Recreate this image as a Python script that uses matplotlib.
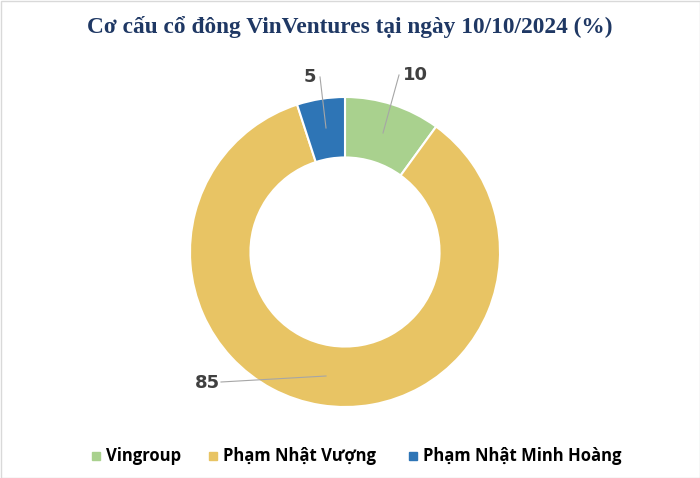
import matplotlib.pyplot as plt
from matplotlib.patches import Rectangle

# Data
labels = ['Vingroup', 'Phạm Nhật Vượng', 'Phạm Nhật Minh Hoàng']
values = [10, 85, 5]
colors = ['#A9D18E', '#E8C464', '#2E75B6']

# label positions / leader line ends (pixel coords, y from top)
label_pos = [(415, 75), (207, 383), (310, 77)]
line_from = [(399, 75), (221, 382), (320, 77)]
line_to = [(383, 133), (326, 376), (326, 128)]

W, H = 700, 478
fig = plt.figure(figsize=(7, 4.78), dpi=100)
ax = fig.add_axes([0, 0, 1, 1])

# light border around the figure
ax.add_patch(Rectangle((0.5, 0.5), W - 1, H - 1, fill=False, edgecolor='#D9D9D9', linewidth=1))

cx, cy, r = 345, H - 252, 155
ax.pie(values, colors=colors, startangle=90, counterclock=False,
       center=(cx, cy), radius=r, frame=True,
       wedgeprops=dict(width=r * 0.39, edgecolor='white', linewidth=1.5))
ax.set_xlim(0, W)
ax.set_ylim(0, H)
ax.set_aspect('equal')
ax.axis('off')

for v, (lx, ly), (fx, fy), (tx, ty) in zip(values, label_pos, line_from, line_to):
    ax.plot([fx, tx], [H - fy, H - ty], color='#A6A6A6', linewidth=0.8)
    ax.text(lx, H - ly, str(v), fontsize=13, fontweight='bold', color='#404040',
            ha='center', va='center', family='DejaVu Sans')

ax.text(W / 2, H - 27, 'Cơ cấu cổ đông VinVentures tại ngày 10/10/2024 (%)',
        fontsize=16.8, fontweight='bold', color='#1F3864', ha='center', va='center',
        family='Liberation Serif')

# legend
leg_items = [(92, labels[0]), (209, labels[1]), (409, labels[2])]
for (x, txt), c in zip(leg_items, colors):
    ax.add_patch(Rectangle((x, H - 460), 8, 8, color=c))
    ax.text(x + 14, H - 456, txt, fontsize=12, fontweight='bold', color='black',
            ha='left', va='center', family='Open Sans')

fig.savefig('out.png', dpi=100)
